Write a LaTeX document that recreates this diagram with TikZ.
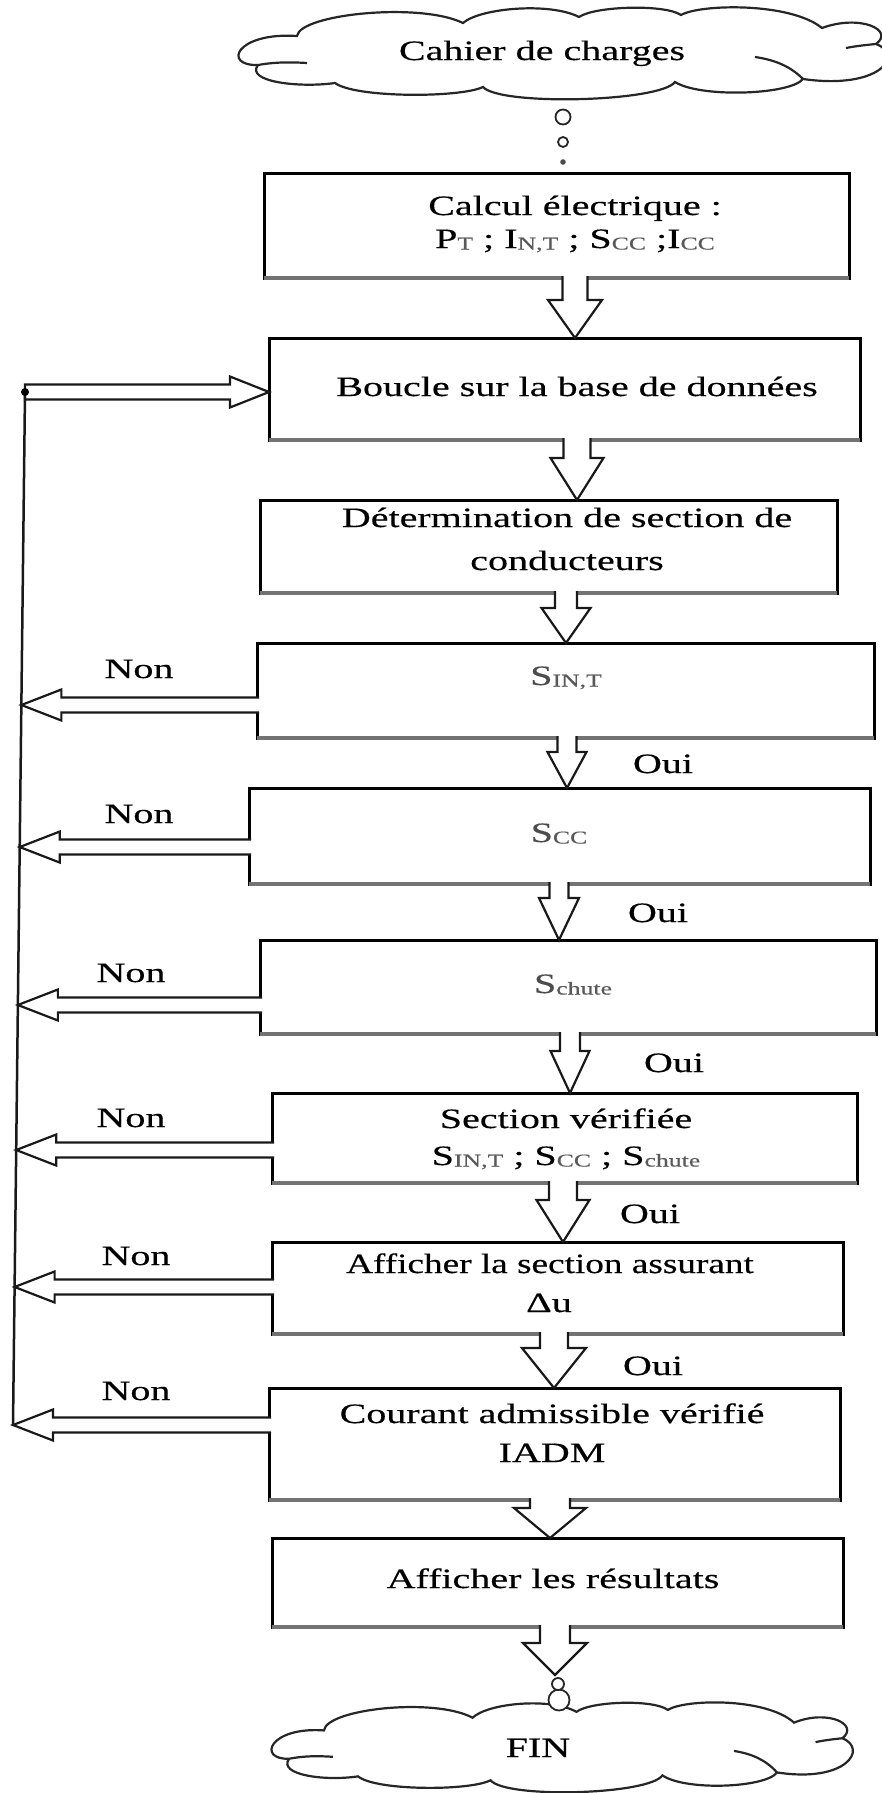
\documentclass[tikz,border=0pt]{standalone}
\usepackage{fontspec}
\setmainfont{Liberation Serif}[FakeStretch=1.43,FakeBold=0.4]
\usetikzlibrary{calc}

\newcommand\sbs[1]{\raisebox{-1.5pt}{\fontsize{18}{20}\selectfont\color{black!65}#1}}

% block arrow pointing down: #1 start coord, #2 tip coord, #3 shaft half width, #4 head half width, #5 head length
\newcommand\blkdown[5]{%
  \path[blkfill] let \p1=(#1), \p2=(#2) in
    (\x1-#3pt,\y1+2pt) -- (\x1-#3pt,\y2+#5pt) -- (\x1-#4pt,\y2+#5pt) -- (\x2,\y2)
    -- (\x1+#4pt,\y2+#5pt) -- (\x1+#3pt,\y2+#5pt) -- (\x1+#3pt,\y1+2pt) -- cycle;
  \path[blkline] let \p1=(#1), \p2=(#2) in
    (\x1-#3pt,\y1+2pt) -- (\x1-#3pt,\y2+#5pt) -- (\x1-#4pt,\y2+#5pt) -- (\x2,\y2)
    -- (\x1+#4pt,\y2+#5pt) -- (\x1+#3pt,\y2+#5pt) -- (\x1+#3pt,\y1+2pt);
}
% block arrow pointing left
\newcommand\blkleft[5]{%
  \path[blkfill] let \p1=(#1), \p2=(#2) in
    (\x1+2pt,\y1+#3pt) -- (\x2+#5pt,\y1+#3pt) -- (\x2+#5pt,\y1+#4pt) -- (\x2,\y1)
    -- (\x2+#5pt,\y1-#4pt) -- (\x2+#5pt,\y1-#3pt) -- (\x1+2pt,\y1-#3pt) -- cycle;
  \path[blkline] let \p1=(#1), \p2=(#2) in
    (\x1+2pt,\y1+#3pt) -- (\x2+#5pt,\y1+#3pt) -- (\x2+#5pt,\y1+#4pt) -- (\x2,\y1)
    -- (\x2+#5pt,\y1-#4pt) -- (\x2+#5pt,\y1-#3pt) -- (\x1+2pt,\y1-#3pt);
}
% block arrow pointing right
\newcommand\blkright[5]{%
  \path[blkfill,blkline] let \p1=(#1), \p2=(#2) in
    (\x1,\y1+#3pt) -- (\x2-#5pt,\y1+#3pt) -- (\x2-#5pt,\y1+#4pt) -- (\x2,\y1)
    -- (\x2-#5pt,\y1-#4pt) -- (\x2-#5pt,\y1-#3pt) -- (\x1,\y1-#3pt) -- cycle;
}

\newcommand\cloudshape{%
  (258,65) .. controls (222,66) and (236,32) .. (297,36)
  .. controls (300,14) and (420,2) .. (463,23)
  .. controls (480,8) and (550,2) .. (579,17)
  .. controls (595,6) and (665,4) .. (681,15)
  .. controls (700,4) and (790,2) .. (822,28)
  .. controls (860,14) and (895,30) .. (876,44)
  .. controls (905,55) and (880,90) .. (803,79)
  .. controls (790,95) and (700,98) .. (675,82)
  .. controls (660,102) and (500,106) .. (483,87)
  .. controls (460,98) and (355,98) .. (335,83)
  .. controls (300,88) and (245,82) .. (258,65) -- cycle
  (258,65) .. controls (275,62) and (290,62) .. (307,63)
  (876,44) .. controls (866,45) and (856,46) .. (846,48)
  (803,79) .. controls (790,66) and (775,60) .. (755,57)
}

\begin{document}
\begin{tikzpicture}[x=1pt,y=-1pt,
  box/.style={draw=black, line width=3pt, inner sep=0pt, outer sep=0pt, fill=white},
  boxbottom/.style={draw=black!55, line width=3.8pt},
  txt/.style={inner sep=0pt, anchor=base, font=\fontsize{28}{34}\selectfont},
  blkfill/.style={fill=white},
  blkline/.style={draw=black!90, line width=2.2pt, line join=miter, miter limit=10},
  cloudline/.style={draw=black!85, line width=2.2pt},
  fbline/.style={draw=black!90, line width=2.5pt},
  bubble/.style={draw=black!85, line width=1.8pt, fill=white},
]
\useasboundingbox (0,0) rectangle (881,1793);

% clouds
\draw[cloudline] \cloudshape;
\begin{scope}[shift={(272,1705)}, xscale=0.8955, yscale=0.977, shift={(-239,-10)}]
  \draw[cloudline] \cloudshape;
\end{scope}

% boxes
\node[box, minimum width=585pt, minimum height=105pt] (b1) at (556.5,225.5) {};
\node[box, minimum width=591pt, minimum height=102pt] (b2) at (564.5,389) {};
\node[box, minimum width=577pt, minimum height=93pt]  (b3) at (548.5,546.5) {};
\node[box, minimum width=617pt, minimum height=95pt]  (b4) at (565.5,690.5) {};
\node[box, minimum width=621pt, minimum height=96pt]  (b5) at (559.5,836) {};
\node[box, minimum width=616pt, minimum height=94pt]  (b6) at (568,987) {};
\node[box, minimum width=585pt, minimum height=90pt]  (b7) at (564.5,1138) {};
\node[box, minimum width=571pt, minimum height=92pt]  (b8) at (557.5,1288) {};
\node[box, minimum width=571pt, minimum height=112pt] (b9) at (554.5,1444) {};
\node[box, minimum width=571pt, minimum height=89pt]  (b10) at (557.5,1582.5) {};
\foreach \b in {b1,b2,b3,b4,b5,b6,b7,b8,b9,b10}
  \draw[boxbottom] (\b.south west) -- (\b.south east);

% thought bubbles
\draw[bubble] (563,117) circle (7.5pt);
\draw[bubble] (563,142) circle (5pt);
\fill[black!70] (563,162) circle (2.8pt);

% texts
\node[txt] (tc) at (542,60) {Cahier de charges};
\node[txt] (t1a) at (575,215) {Calcul électrique :};
\node[txt] (t1b) at (575,248) {P\sbs{T} ; I\sbs{N,T} ; S\sbs{CC} ;I\sbs{CC}};
\node[txt] (t2) at (577,396) {Boucle sur la base de données};
\node[txt] (t3a) at (567,527) {Détermination de section de};
\node[txt] (t3b) at (567,570) {conducteurs};
\node[txt, text=black!70] (t4) at (566,685) {S\sbs{IN,T}};
\node[txt, text=black!70] (t5) at (559,842) {S\sbs{CC}};
\node[txt, text=black!70] (t6) at (573,993) {S\sbs{chute}};
\node[txt] (t7a) at (566,1128) {Section vérifiée};
\node[txt] (t7b) at (566,1165) {S\sbs{IN,T} ; S\sbs{CC} ; S\sbs{chute}};
\node[txt] (t8a) at (550,1273) {\scalebox{0.93}[1]{Afficher la section assurant}};
\node[txt] (t8b) at (549,1312) {Δu};
\node[txt] (t9a) at (552,1423) {Courant admissible vérifié};
\node[txt] (t9b) at (552,1462) {IADM};
\node[txt] (t10) at (553,1588) {Afficher les résultats};
\node[txt] (tfin) at (538,1757) {FIN};

\node[txt] (non4) at (139,678) {Non};
\node[txt] (non5) at (139,823) {Non};
\node[txt] (non6) at (131,982) {Non};
\node[txt] (non7) at (131,1127) {Non};
\node[txt] (non8) at (136,1265) {Non};
\node[txt] (non9) at (136,1400) {Non};
\node[txt] (oui4) at (663,773) {Oui};
\node[txt] (oui5) at (658,922) {Oui};
\node[txt] (oui6) at (674,1072) {Oui};
\node[txt] (oui7) at (650,1223) {Oui};
\node[txt] (oui8) at (653,1375) {Oui};

% vertical block arrows
\coordinate (a1s) at (575,0 |- b1.south);  \coordinate (a1e) at (575,0 |- b2.north);
\coordinate (a2s) at (577,0 |- b2.south);  \coordinate (a2e) at (577,0 |- b3.north);
\coordinate (a3s) at (566,0 |- b3.south);  \coordinate (a3e) at (566,0 |- b4.north);
\coordinate (a4s) at (567,0 |- b4.south);  \coordinate (a4e) at (567,0 |- b5.north);
\coordinate (a5s) at (559,0 |- b5.south);  \coordinate (a5e) at (559,0 |- b6.north);
\coordinate (a6s) at (570,0 |- b6.south);  \coordinate (a6e) at (570,0 |- b7.north);
\coordinate (a7s) at (563,0 |- b7.south);  \coordinate (a7e) at (563,0 |- b8.north);
\coordinate (a8s) at (554,0 |- b8.south);  \coordinate (a8e) at (554,0 |- b9.north);
\coordinate (a9s) at (550,0 |- b9.south);  \coordinate (a9e) at (550,0 |- b10.north);
\coordinate (a10s) at (555,0 |- b10.south); \coordinate (a10e) at (555,1675);
\blkdown{a1s}{a1e}{12.5}{27}{38}
\blkdown{a2s}{a2e}{13.5}{26.5}{42}
\blkdown{a3s}{a3e}{11}{24.5}{35}
\blkdown{a4s}{a4e}{9.5}{19.5}{36}
\blkdown{a5s}{a5e}{9.5}{20}{42}
\blkdown{a6s}{a6e}{10}{19.5}{42}
\blkdown{a7s}{a7e}{14}{26.5}{42}
\blkdown{a8s}{a8e}{14}{32}{40}
\blkdown{a9s}{a9e}{20}{36}{30}
\blkdown{a10s}{a10e}{15}{32}{32}

% bubbles above FIN
\draw[bubble] (559,1700) circle (10.5pt);
\draw[bubble] (558,1684) circle (6pt);

% feedback loop
\coordinate (ltop) at (25,392);
\coordinate (lbot) at (13,1425);
\coordinate (n4t) at ($(ltop)!0.3030!(lbot)$);  \coordinate (n4s) at (b4.west |- n4t);
\coordinate (n5t) at ($(ltop)!0.4405!(lbot)$);  \coordinate (n5s) at (b5.west |- n5t);
\coordinate (n6t) at ($(ltop)!0.5934!(lbot)$);  \coordinate (n6s) at (b6.west |- n6t);
\coordinate (n7t) at ($(ltop)!0.7338!(lbot)$);  \coordinate (n7s) at (b7.west |- n7t);
\coordinate (n8t) at ($(ltop)!0.8664!(lbot)$);  \coordinate (n8s) at (b8.west |- n8t);
\coordinate (n9t) at (lbot);                    \coordinate (n9s) at (b9.west |- n9t);
\blkleft{n4s}{n4t}{7.5}{15.5}{40}
\blkleft{n5s}{n5t}{7.5}{15.5}{40}
\blkleft{n6s}{n6t}{7.5}{15.5}{40}
\blkleft{n7s}{n7t}{7.5}{15.5}{40}
\blkleft{n8s}{n8t}{7.5}{15.5}{40}
\blkleft{n9s}{n9t}{7.5}{15.5}{40}
\coordinate (fbe) at (b2.west |- ltop);
\blkright{ltop}{fbe}{7.5}{15.5}{39}
\draw[fbline] (ltop) -- (lbot);
\fill (ltop) circle (4pt);
\end{tikzpicture}
\end{document}
